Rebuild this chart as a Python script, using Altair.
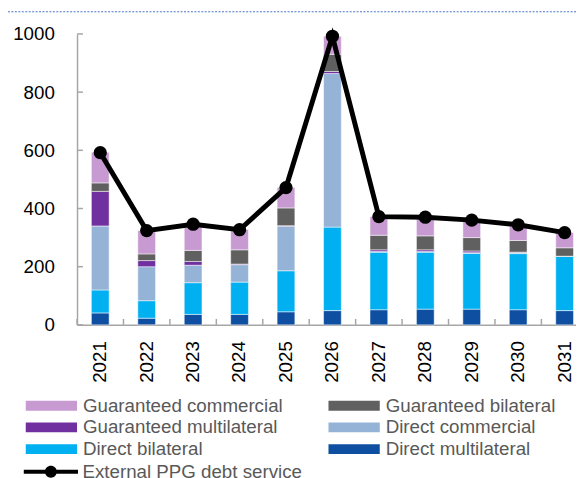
import altair as alt
import pandas as pd

years = ["2021", "2022", "2023", "2024", "2025", "2026", "2027", "2028", "2029", "2030", "2031"]
direct_multilateral = [41, 23, 36, 36, 45, 49, 52, 54, 54, 52, 49]
direct_bilateral = [79, 60, 109, 111, 141, 287, 198, 196, 192, 193, 187]
direct_commercial = [220, 117, 60, 60, 153, 528, 2, 2, 2, 3, 0]
guaranteed_multilateral = [119, 21, 13, 2, 2, 7, 6, 6, 6, 2, 0]
guaranteed_bilateral = [29, 23, 38, 49, 61, 59, 50, 48, 46, 40, 29]
guaranteed_commercial = [105, 80, 90, 70, 70, 62, 64, 64, 60, 54, 52]
debt_service = [592, 324, 346, 327, 472, 992, 372, 370, 360, 344, 317]
y_ticks = [0, 200, 400, 600, 800, 1000]

# stack order: bottom first
stack_names = ["Direct multilateral", "Direct bilateral", "Direct commercial",
               "Guaranteed multilateral", "Guaranteed bilateral", "Guaranteed commercial"]
stack_values = [direct_multilateral, direct_bilateral, direct_commercial,
                guaranteed_multilateral, guaranteed_bilateral, guaranteed_commercial]
# legend is filled column by column
legend_order = ["Guaranteed commercial", "Guaranteed multilateral", "Direct bilateral",
                "Guaranteed bilateral", "Direct commercial", "Direct multilateral"]
legend_colors = ["#C89AD2", "#7030A0", "#00B0F0", "#606060", "#95B3D7", "#0F4FA2"]
line_name = "External PPG debt service"

rows = []
for k, (name, vals) in enumerate(zip(stack_names, stack_values)):
    for y, v in zip(years, vals):
        rows.append({"year": y, "series": name, "value": v, "order": k})
bars_df = pd.DataFrame(rows)
line_df = pd.DataFrame({"year": years, "value": debt_service, "series": line_name})
yt_df = pd.DataFrame({"v": y_ticks})
xt_df = pd.DataFrame({"year": years})

W = 506
H = 295
RANGE = 518
STEP = RANGE / len(years)

# symbol paths drawn wider than the nominal symbol size (size 400 -> unit = 10px)
rect_path = "M-2.6,-0.5L2.6,-0.5L2.6,0.5L-2.6,0.5Z"
line_path = ("M-2.75,-0.2L2.75,-0.2L2.75,0.2L-2.75,0.2Z"
             "M0.6,0A0.6,0.6,0,1,1,-0.6,0A0.6,0.6,0,1,1,0.6,0Z")

x_enc = alt.X("year:O", sort=years, title=None,
              scale=alt.Scale(range=[0, RANGE], paddingInner=0, paddingOuter=0),
              axis=alt.Axis(labelAngle=-90, labelFontSize=19, labelColor="black",
                            labelPadding=16, ticks=False, tickSize=0,
                            domainColor="#A6A6A6", domainWidth=1.5, grid=False))
y_scale = alt.Scale(domain=[0, 1000], nice=False)

bars = alt.Chart(bars_df).mark_bar(width=18, stroke="white", strokeWidth=0.5).encode(
    x=x_enc,
    y=alt.Y("value:Q", stack="zero", scale=y_scale, title=None,
            axis=alt.Axis(values=y_ticks, format="d", labelFontSize=19, labelColor="black",
                          labelPadding=23, ticks=False, tickSize=0, grid=False,
                          domainColor="#A6A6A6", domainWidth=1.5)),
    fill=alt.Fill("series:N", sort=legend_order,
                  scale=alt.Scale(domain=legend_order, range=legend_colors),
                  legend=alt.Legend(title=None, orient="none", legendX=-36, legendY=367,
                                    columns=2, columnPadding=46, rowPadding=2,
                                    symbolType=rect_path, symbolSize=400,
                                    symbolStrokeWidth=0, labelFontSize=19,
                                    labelColor="#595959", labelFont="Liberation Sans",
                                    labelOffset=22, labelLimit=300, padding=0)),
    order=alt.Order("order:Q", sort="ascending"),
)

yticks = alt.Chart(yt_df).mark_rule(color="#A6A6A6", strokeWidth=1.5).encode(
    y=alt.Y("v:Q", scale=y_scale),
    x=alt.value(0), x2=alt.value(6),
)

xticks = alt.Chart(xt_df).mark_rule(color="#A6A6A6", strokeWidth=1.5, xOffset=-STEP / 2).encode(
    x=alt.X("year:O", sort=years),
    y=alt.value(H), y2=alt.value(H - 6),
)

line = alt.Chart(line_df).mark_line(color="black", strokeWidth=5).encode(
    x=alt.X("year:O", sort=years),
    y=alt.Y("value:Q", scale=y_scale),
)

points = alt.Chart(line_df).mark_point(filled=True, color="black", size=180, opacity=1).encode(
    x=alt.X("year:O", sort=years),
    y=alt.Y("value:Q", scale=y_scale),
    opacity=alt.Opacity("series:N", scale=alt.Scale(range=[1, 1]),
                        legend=alt.Legend(title=None, orient="none", legendX=-36.5, legendY=434,
                                          symbolType=line_path, symbolSize=400,
                                          symbolFillColor="black", symbolStrokeWidth=0,
                                          labelFontSize=19, labelColor="#595959",
                                          labelFont="Liberation Sans", labelOffset=22,
                                          labelLimit=300, padding=0)),
)

topline = alt.Chart(yt_df.head(1)).mark_rule(color="#4472C4", strokeWidth=1, strokeDash=[2, 1.5]).encode(
    x=alt.value(-70), x2=alt.value(W), y=alt.value(-22.5),
)

chart = alt.layer(bars, yticks, xticks, line, points, topline).properties(
    width=W, height=H,
    autosize=alt.AutoSizeParams(type="none"),
    padding={"left": 70, "top": 23, "right": 0, "bottom": 154},
).configure(font="Liberation Sans").configure_view(stroke=None)

chart.save("out.html", embed_options={"renderer": "svg", "actions": False})
